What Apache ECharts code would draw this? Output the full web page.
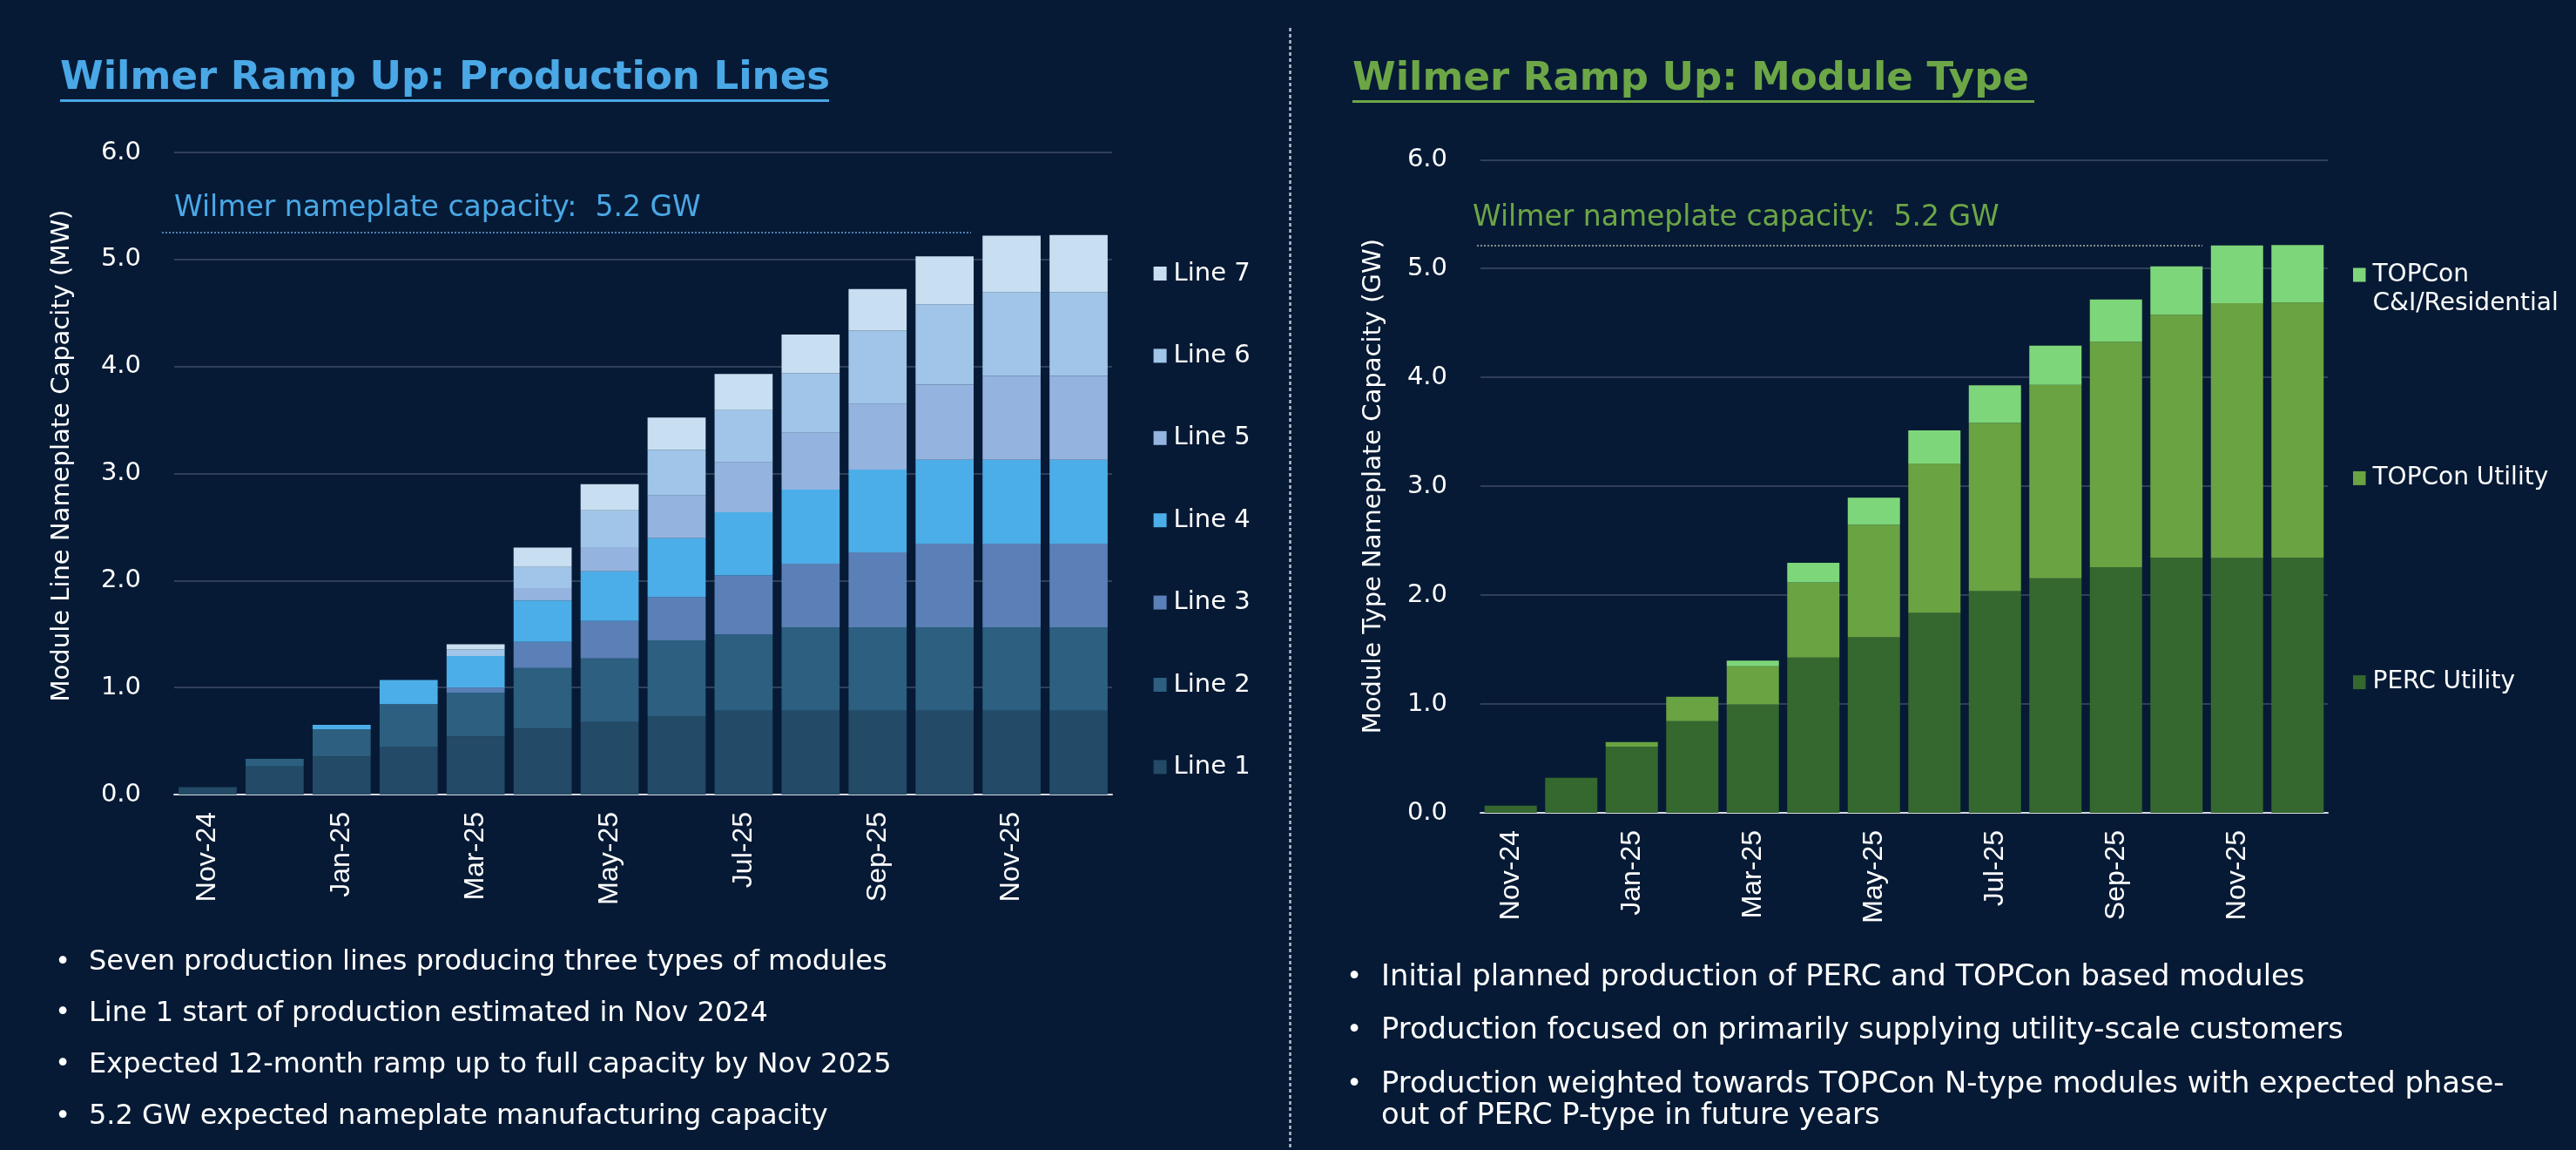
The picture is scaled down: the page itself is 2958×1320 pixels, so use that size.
<!DOCTYPE html>
<html>
<head>
<meta charset="utf-8">
<script src="https://cdn.jsdelivr.net/npm/echarts@6/dist/echarts.min.js"></script>
<style>
html,body{margin:0;padding:0;background:#061a35;}
#chart{width:2958px;height:1320px;}
</style>
</head>
<body>
<div id="chart"></div>
<script>
// ---------- DATA ----------
const months = ['Nov-24','Dec-24','Jan-25','Feb-25','Mar-25','Apr-25','May-25','Jun-25','Jul-25','Aug-25','Sep-25','Oct-25','Nov-25','Dec-25'];
const yTicks = [0, 1, 2, 3, 4, 5, 6];

// Left chart: production lines (GW)
const line1 = [0.07, 0.262, 0.357, 0.448, 0.543, 0.617, 0.678, 0.732, 0.784, 0.784, 0.784, 0.784, 0.784, 0.784];
const line2 = [0, 0.071, 0.254, 0.396, 0.410, 0.566, 0.594, 0.708, 0.712, 0.780, 0.780, 0.780, 0.780, 0.780];
const line3 = [0, 0, 0, 0, 0.047, 0.243, 0.351, 0.405, 0.552, 0.593, 0.699, 0.781, 0.781, 0.781];
const line4 = [0, 0, 0.041, 0.227, 0.295, 0.388, 0.463, 0.550, 0.590, 0.693, 0.774, 0.783, 0.783, 0.783];
const line5 = [0, 0, 0, 0, 0, 0.116, 0.227, 0.399, 0.466, 0.531, 0.612, 0.702, 0.784, 0.784];
const line6 = [0, 0, 0, 0, 0.060, 0.196, 0.343, 0.425, 0.489, 0.555, 0.687, 0.752, 0.783, 0.783];
const line7 = [0, 0, 0, 0, 0.049, 0.181, 0.244, 0.305, 0.338, 0.363, 0.387, 0.447, 0.528, 0.534];
const lineNames = ['Line 1','Line 2','Line 3','Line 4','Line 5','Line 6','Line 7'];

// Right chart: module types (GW)
const percUtility   = [0.067, 0.323, 0.608, 0.842, 0.997, 1.426, 1.613, 1.837, 2.036, 2.154, 2.257, 2.343, 2.341, 2.343];
const topconUtility = [0, 0, 0.043, 0.225, 0.349, 0.690, 1.034, 1.372, 1.548, 1.777, 2.070, 2.233, 2.341, 2.344];
const topconCI      = [0, 0, 0, 0, 0.053, 0.181, 0.248, 0.305, 0.343, 0.360, 0.388, 0.445, 0.531, 0.530];
const typeNames = ['PERC Utility','TOPCon Utility','TOPCon C&I/Residential'];

const nameplateLeft = 5.25;   // annotation line level, left panel
const nameplateRight = 5.21;  // annotation line level, right panel

const leftBullets = [
  'Seven production lines producing three types of modules',
  'Line 1 start of production estimated in Nov 2024',
  'Expected 12-month ramp up to full capacity by Nov 2025',
  '5.2 GW expected nameplate manufacturing capacity'
];
const rightBullets = [
  'Initial planned production of PERC and TOPCon based modules',
  'Production focused on primarily supplying utility-scale customers',
  'Production weighted towards TOPCon N-type modules with expected phase-\nout of PERC P-type in future years'
];

// ---------- STYLE ----------
const BG = '#061a35';
const FONT = 'DejaVu Sans';
const blue = '#4aa8e6';
const green = '#6ca646';
const lineColors = ['#234a66','#2c5f80','#5a80b7','#4caee8','#94b3df','#a0c5e8','#c8dff2'];
const typeColors = ['#34682e','#6aa342','#7ed67a'];

const chart = echarts.init(document.getElementById('chart'), null, {renderer:'canvas'});

function xAxisCfg(gi){
  return {
    type:'category', gridIndex:gi, data:months,
    axisLine:{lineStyle:{color:'#d5dae2', width:2}},
    axisTick:{interval:1, length:9, lineStyle:{color:'#d5dae2', width:2}},
    axisLabel:{interval:1, rotate:90, margin:20, color:'#ffffff', fontFamily:'Liberation Sans', fontSize:32}
  };
}
function yAxisCfg(gi, name, gap, pad){
  return {
    type:'value', gridIndex:gi, min:yTicks[0], max:yTicks[yTicks.length-1], interval:1,
    axisLine:{show:false}, axisTick:{show:false},
    splitLine:{lineStyle:{color:'#3f4d64', width:1.5}},
    axisLabel:{formatter:v=>v.toFixed(1), color:'#ffffff', fontFamily:FONT, fontSize:29, margin:38},
    name:name, nameLocation:'middle', nameGap:gap, nameRotate:90,
    nameTextStyle:{color:'#ffffff', fontFamily:FONT, fontSize:29, padding:pad}
  };
}

const leftData = [line1,line2,line3,line4,line5,line6,line7];
const series = [];
leftData.forEach((d,i)=>{
  const s = {
    type:'bar', name:lineNames[i], stack:'lines', xAxisIndex:0, yAxisIndex:0,
    data:d, barCategoryGap:'13.3%', itemStyle:{color:lineColors[i]}
  };
  if (i === 6) {
    s.markLine = {
      silent:true, symbol:['none','none'], animation:false,
      lineStyle:{type:[2,2], color:'#4f80b2', width:2},
      label:{show:true, position:'insideStartTop', formatter:'Wilmer nameplate capacity:  5.2 GW',
             color:blue, fontFamily:FONT, fontSize:33, distance:[14,11]},
      data:[[{x:186, yAxis:nameplateLeft},{x:1115, yAxis:nameplateLeft}]]
    };
  }
  series.push(s);
});
[percUtility, topconUtility, topconCI].forEach((d,i)=>{
  const s = {
    type:'bar', name:typeNames[i], stack:'types', xAxisIndex:1, yAxisIndex:1,
    data:d, barCategoryGap:'13.7%', itemStyle:{color:typeColors[i]}
  };
  if (i === 2) {
    s.markLine = {
      silent:true, symbol:['none','none'], animation:false,
      lineStyle:{type:[2,2], color:'#a9b6a8', width:1.5},
      label:{show:true, position:'insideStartTop', formatter:'Wilmer nameplate capacity:  5.2 GW',
             color:green, fontFamily:FONT, fontSize:33, distance:[-5,15]},
      data:[[{x:1696, yAxis:nameplateRight},{x:2529, yAxis:nameplateRight}]]
    };
  }
  series.push(s);
});

const legendText = {color:'#ffffff', fontFamily:FONT, fontSize:29, lineHeight:34, padding:[0,0,0,3]};
const legendTextR = {color:'#ffffff', fontFamily:FONT, fontSize:28, lineHeight:33, padding:[0,0,0,3]};

const graphics = [];
// Titles
graphics.push({type:'text', x:69, y:90, style:{text:'Wilmer Ramp Up: Production Lines', fill:blue, font:'bold 45px "DejaVu Sans"', align:'left', verticalAlign:'middle'}});
graphics.push({type:'rect', shape:{x:69, y:114, width:883, height:3}, style:{fill:blue}});
graphics.push({type:'text', x:1553, y:91, style:{text:'Wilmer Ramp Up: Module Type', fill:green, font:'bold 45px "DejaVu Sans"', align:'left', verticalAlign:'middle'}});
graphics.push({type:'rect', shape:{x:1553, y:115, width:783, height:3}, style:{fill:green}});
// Divider
graphics.push({type:'line', shape:{x1:1481.5, y1:32, x2:1481.5, y2:1320}, style:{stroke:'#b8c0cc', lineWidth:2.5, lineDash:[4,3]}});
// Bullets
const leftY = [1105, 1163.5, 1222.5, 1282];
leftBullets.forEach((t,i)=>{
  graphics.push({type:'text', x:72, y:leftY[i], style:{text:'•', fill:'#fff', font:'30px "DejaVu Sans"', align:'center', verticalAlign:'middle'}});
  graphics.push({type:'text', x:102, y:leftY[i], style:{text:t, fill:'#fff', font:'32px "DejaVu Sans"', align:'left', verticalAlign:'middle'}});
});
const rightY = [1122, 1183, 1245.7];
rightBullets.forEach((t,i)=>{
  graphics.push({type:'text', x:1555, y:rightY[i], style:{text:'•', fill:'#fff', font:'30px "DejaVu Sans"', align:'center', verticalAlign:'middle'}});
  graphics.push({type:'text', x:1586, y:rightY[i] - 17.8, style:{text:t, fill:'#fff', font:'33.8px "DejaVu Sans"', align:'left', verticalAlign:'top', lineHeight:35.6}});
});

chart.setOption({
  backgroundColor: BG,
  animation:false,
  grid:[
    {left:200, top:175, width:1077, height:737},
    {left:1700, top:183.3, width:973, height:749.7}
  ],
  xAxis:[xAxisCfg(0), xAxisCfg(1)],
  yAxis:[
    yAxisCfg(0, 'Module Line Nameplate Capacity (MW)', 114, [0,0,0,41]),
    yAxisCfg(1, 'Module Type Nameplate Capacity (GW)', 108, [0,0,0,0])
  ],
  legend:[
    {data:lineNames.slice().reverse(), orient:'vertical', left:1319.6, top:292, icon:'rect',
     itemWidth:15, itemHeight:16, itemGap:60.4, textStyle:legendText},
    {data:['TOPCon C&I/Residential'], orient:'vertical', left:2697, top:261, icon:'rect',
     itemWidth:14.5, itemHeight:16, formatter:n=>'\n' + n.replace(' C&I','\nC&I'),
     textStyle:legendTextR},
    {data:['TOPCon Utility'], orient:'vertical', left:2697, top:527.4, icon:'rect',
     itemWidth:14.5, itemHeight:16, textStyle:legendTextR},
    {data:['PERC Utility'], orient:'vertical', left:2697, top:761.6, icon:'rect',
     itemWidth:14.5, itemHeight:16, textStyle:legendTextR}
  ],
  series:series,
  graphic:graphics
});
</script>
</body>
</html>
